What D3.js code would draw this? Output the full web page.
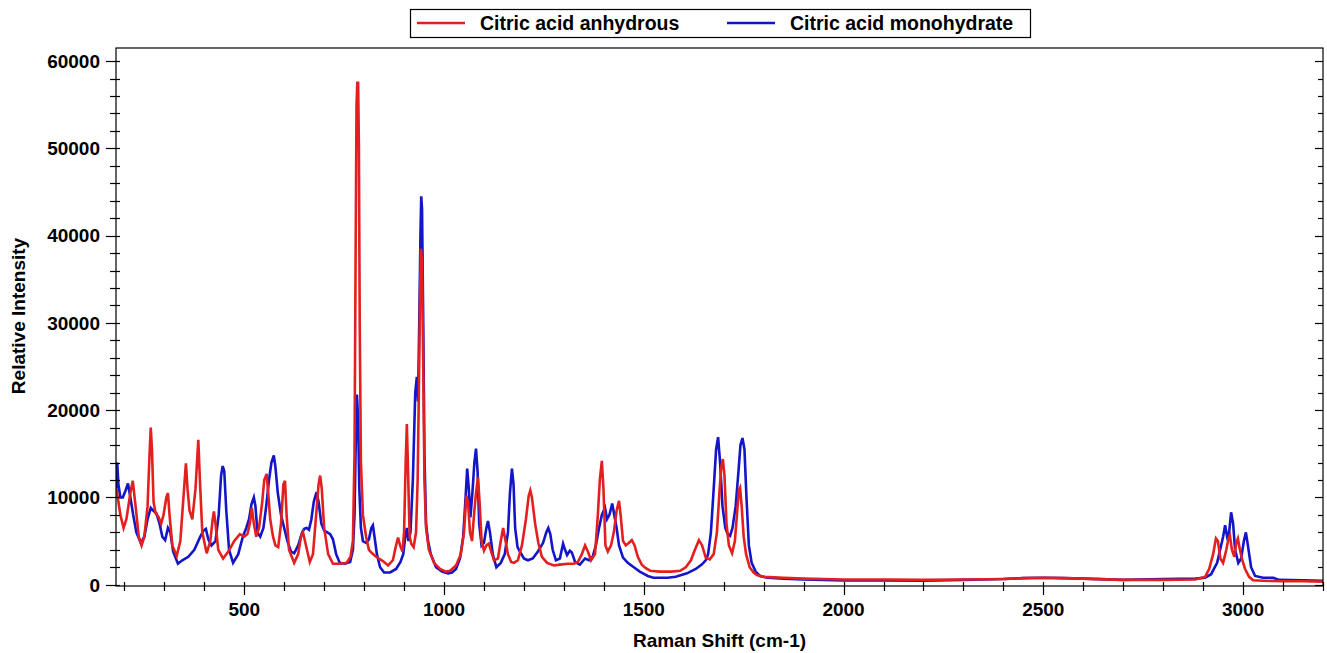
<!DOCTYPE html>
<html><head><meta charset="utf-8">
<script src="https://cdn.jsdelivr.net/npm/d3@7"></script>
<style>body{margin:0;background:#fff;} svg{display:block;} text{font-family:"Liberation Sans",Arial,sans-serif;font-weight:bold;}</style>
</head><body>
<svg id="c" width="1327" height="653"></svg>
<script>
const seriesNames = ["Citric acid anhydrous", "Citric acid monohydrate"];
const xTickValues = [500, 1000, 1500, 2000, 2500, 3000];
const yTickValues = [0, 10000, 20000, 30000, 40000, 50000, 60000];
const xLabel = "Raman Shift (cm-1)";
const yLabel = "Relative Intensity";

// [Raman shift, intensity]
const anhydrous = [
[180,11000],[185,9500],[190,8000],[198,6500],[205,7500],[215,10500],[221,11900],[228,9000],[236,5500],[243,4500],
[250,5500],[258,9000],[263,15000],[266,18000],[269,15500],[273,9500],[278,8200],[285,7800],[292,7000],[298,8000],
[305,10000],[309,10500],[313,8000],[320,4500],[331,3300],[340,5000],[347,9500],[354,13900],[358,11000],[363,8500],
[370,7500],[378,11000],[385,16600],[389,12000],[395,6000],[406,3600],[415,5000],[421,7500],[424,8400],[428,7000],
[435,4000],[447,3000],[460,3800],[475,5000],[489,5800],[500,5500],[508,5800],[514,7000],[519,8800],[524,7000],
[530,5500],[537,6500],[545,9500],[550,12000],[556,12700],[560,10500],[565,7500],[572,5500],[578,4500],[585,4300],
[592,7000],[598,11500],[602,11900],[606,8000],[612,4000],[625,2500],[635,3500],[642,5500],[647,6000],[652,5000],
[664,2600],[672,3500],[680,8000],[686,11500],[690,12500],[694,11000],[700,6500],[710,3500],[722,2400],[740,2400],
[756,2500],[766,3200],[772,5000],[776,15000],[779,40000],[781,55000],[783,57500],[785,57500],[787,50000],[789,30000],
[792,14000],[797,8000],[805,5500],[812,4000],[820,3600],[830,3200],[847,2700],[860,2200],[872,2800],[880,4500],
[885,5400],[890,4500],[896,3800],[900,6000],[904,14000],[907,18400],[910,13000],[914,5500],[918,4700],[924,4300],
[930,6000],[934,12000],[937,22000],[940,33000],[942,38500],[945,37000],[948,25000],[951,12000],[955,6500],[962,4000],
[975,2500],[990,1800],[1005,1500],[1015,1600],[1030,2200],[1042,3500],[1050,6000],[1056,10200],[1060,9500],[1065,6000],
[1070,5000],[1076,8500],[1080,10500],[1085,12300],[1089,9500],[1094,5000],[1100,3900],[1106,4500],[1112,4700],[1118,3800],
[1125,2800],[1135,3000],[1142,5000],[1148,6500],[1154,5000],[1160,3500],[1168,2600],[1175,2500],[1185,2800],[1195,4500],
[1205,7500],[1212,10200],[1216,10800],[1220,10000],[1228,7000],[1236,4800],[1245,3200],[1258,2500],[1275,2200],[1290,2300],
[1310,2400],[1325,2400],[1335,2600],[1345,3500],[1353,4500],[1360,3800],[1368,2800],[1378,3500],[1385,8000],[1390,12000],
[1395,14200],[1399,11000],[1404,4500],[1410,3800],[1418,4500],[1425,6000],[1432,8500],[1438,9600],[1442,8000],[1448,5000],
[1455,4500],[1463,4800],[1470,5100],[1477,4500],[1485,3200],[1495,2300],[1505,1900],[1516,1600],[1540,1500],[1570,1500],
[1591,1600],[1605,2000],[1618,2800],[1628,4000],[1638,5100],[1646,4500],[1655,3100],[1665,2900],[1675,3500],[1683,6000],
[1690,11000],[1694,13500],[1698,14400],[1702,12500],[1707,7000],[1713,4500],[1721,3600],[1728,5000],[1734,8500],[1738,10800],
[1741,11100],[1745,9000],[1750,5500],[1756,3500],[1765,2000],[1775,1400],[1783,1100],[1800,900],[1850,800],[1900,700],
[1950,650],[2000,600],[2100,600],[2200,550],[2300,600],[2400,650],[2450,750],[2500,800],[2550,750],[2600,700],
[2700,550],[2800,550],[2880,600],[2905,900],[2915,1800],[2925,3500],[2932,5300],[2937,5000],[2943,3000],[2950,2500],
[2958,4000],[2963,5200],[2967,5600],[2972,4000],[2978,3200],[2983,4800],[2987,5300],[2992,4000],[2998,2800],[3005,1800],
[3015,900],[3025,500],[3050,450],[3100,400],[3150,400],[3200,350]
];

const monohydrate = [
[180,11000],[182,14000],[185,11500],[190,10000],[196,10000],[203,10800],[209,11600],[215,10000],[222,8000],[230,6000],
[241,4800],[250,5500],[258,7500],[266,8800],[272,8500],[280,8200],[288,7000],[295,5500],[302,5100],[309,6500],
[315,6000],[322,3800],[334,2400],[345,2800],[360,3200],[375,4000],[390,5500],[398,6200],[404,6400],[410,5200],
[418,4500],[428,5000],[436,8000],[442,12500],[446,13600],[450,13000],[455,8500],[462,4000],[472,2500],[485,3500],
[497,5600],[505,6500],[512,7500],[518,9200],[524,10000],[528,9000],[533,6000],[540,5500],[548,6500],[555,9000],
[562,12000],[568,14000],[574,14800],[578,13500],[584,10500],[592,8000],[600,6500],[608,5000],[617,3800],[625,3600],
[635,4500],[645,6000],[650,6400],[656,6500],[662,6300],[668,7500],[674,9500],[681,10600],[686,9500],[693,7000],
[700,6200],[708,6000],[715,5800],[722,5200],[730,3500],[739,2500],[752,2400],[765,2600],[772,4000],[776,8000],
[779,16000],[782,21800],[785,19000],[788,11000],[792,6500],[797,5000],[805,4800],[812,5200],[818,6500],[822,6800],
[826,5500],[832,3500],[840,2000],[850,1400],[865,1400],[880,1800],[891,2600],[898,3500],[903,5500],[907,6500],
[911,5000],[916,6000],[922,12000],[928,22000],[932,23800],[935,21000],[938,30000],[941,40000],[943,44500],[945,43000],
[948,30000],[951,15000],[955,7000],[960,5000],[967,3500],[980,2000],[995,1500],[1010,1300],[1020,1400],[1030,1800],
[1040,3000],[1048,5500],[1054,10000],[1058,13300],[1062,11000],[1066,7700],[1071,10500],[1076,14000],[1080,15600],[1084,13000],
[1088,7000],[1094,4500],[1100,4800],[1106,6500],[1110,7300],[1115,6000],[1122,3500],[1131,2000],[1142,2500],[1152,3500],
[1160,6000],[1165,10500],[1170,13300],[1174,11500],[1178,6500],[1184,4300],[1190,3800],[1200,3000],[1210,2800],[1222,3000],
[1235,3800],[1248,4800],[1256,6000],[1261,6500],[1266,5800],[1272,4000],[1280,2800],[1290,3000],[1298,4700],[1303,4000],
[1308,3400],[1315,3900],[1320,3700],[1328,2600],[1340,2300],[1353,3000],[1363,2800],[1372,3200],[1380,4500],[1388,6500],
[1395,8000],[1403,8800],[1408,7500],[1414,8000],[1421,9300],[1426,8000],[1432,6500],[1438,4500],[1448,3100],[1460,2500],
[1475,2000],[1490,1500],[1498,1300],[1510,1000],[1524,800],[1540,800],[1560,800],[1580,900],[1608,1300],[1630,1800],
[1645,2300],[1655,2800],[1661,3500],[1668,6000],[1675,11000],[1681,15500],[1686,16900],[1691,14000],[1697,9000],[1704,6500],
[1710,5800],[1716,5600],[1722,6500],[1730,9000],[1737,13000],[1742,16000],[1747,16800],[1752,15500],[1757,10000],[1763,4500],
[1770,2500],[1780,1500],[1791,1000],[1810,800],[1850,700],[1900,600],[1950,550],[2000,500],[2100,500],[2200,450],
[2300,550],[2400,650],[2450,750],[2500,800],[2550,750],[2600,700],[2700,550],[2800,650],[2880,700],[2905,800],
[2920,1200],[2935,2500],[2945,4500],[2950,5500],[2955,6800],[2960,5500],[2965,6000],[2970,8300],[2975,7000],[2980,4000],
[2988,2500],[2995,3000],[3002,5000],[3007,6000],[3012,4500],[3020,2000],[3030,1000],[3050,800],[3076,800],[3090,550],
[3150,500],[3200,450]
];

const svg = d3.select("#c");
const L = 116, R = 1323, T = 48, B = 586;
const x = d3.scaleLinear().domain([179, 3200]).range([L, R]);
const y = d3.scaleLinear().domain([-150, 61500]).range([B, T]);
const colors = ["#e41f1f", "#1414c8"];

svg.append("defs").append("clipPath").attr("id","clip")
  .append("rect").attr("x",L).attr("y",T).attr("width",R-L).attr("height",B-T);

const line = d3.line().x(d=>x(d[0])).y(d=>y(d[1]));
const g = svg.append("g").attr("clip-path","url(#clip)");
g.append("path").datum(monohydrate).attr("d",line).attr("fill","none").attr("stroke",colors[1]).attr("stroke-width",2.6).attr("stroke-linejoin","miter");
g.append("path").datum(anhydrous).attr("d",line).attr("fill","none").attr("stroke",colors[0]).attr("stroke-width",2.6).attr("stroke-linejoin","miter");

// frame
svg.append("rect").attr("x",L).attr("y",T).attr("width",R-L).attr("height",B-T).attr("fill","none").attr("stroke","#000").attr("stroke-width",1.2);

// y axis left
const yMinor = d3.range(0, 61000, 2000);
const ya = svg.append("g");
ya.selectAll("line.mi").data(yMinor).join("line")
  .attr("x1", d => yTickValues.includes(d) ? L-10 : L-6).attr("x2", L+4)
  .attr("y1", d=>Math.round(y(d))+0.5).attr("y2", d=>Math.round(y(d))+0.5)
  .attr("stroke","#000").attr("stroke-width",1.2);
ya.selectAll("text").data(yTickValues).join("text")
  .attr("x", 100).attr("y", d=>y(d)).attr("dy","0.36em").attr("text-anchor","end")
  .attr("font-size",19).text(d=>d);

// right axis ticks inward
svg.append("g").selectAll("line").data(yMinor).join("line")
  .attr("x1", R).attr("x2", d => yTickValues.includes(d) ? R-8 : R-5)
  .attr("y1", d=>Math.round(y(d))+0.5).attr("y2", d=>Math.round(y(d))+0.5)
  .attr("stroke","#000").attr("stroke-width",1.2);

// x axis
const xMinor = d3.range(200, 3201, 100);
const xa = svg.append("g");
xa.selectAll("line").data(xMinor).join("line")
  .attr("x1", d=>Math.round(x(d))+0.5).attr("x2", d=>Math.round(x(d))+0.5)
  .attr("y1", B-4).attr("y2", d => xTickValues.includes(d) ? B+9 : B+5)
  .attr("stroke","#000").attr("stroke-width",1.2);
xa.selectAll("text").data(xTickValues).join("text")
  .attr("x", d=>x(d)).attr("y", 616).attr("text-anchor","middle")
  .attr("font-size",19).text(d=>d);

// axis titles
svg.append("text").attr("x", (L+R)/2).attr("y", 647).attr("text-anchor","middle").attr("font-size",19).text(xLabel);
svg.append("text").attr("transform","translate(25,316) rotate(-90)").attr("text-anchor","middle").attr("font-size",19).text(yLabel);

// legend
const lg = svg.append("g");
lg.append("rect").attr("x",410.5).attr("y",9.5).attr("width",620).attr("height",28).attr("fill","#fff").attr("stroke","#000").attr("stroke-width",1.2);
const legX = [[417, 465, 480], [727, 775, 790]];
seriesNames.forEach((n,i)=>{
  lg.append("line").attr("x1",legX[i][0]).attr("x2",legX[i][1]).attr("y1",23).attr("y2",23).attr("stroke",colors[i]).attr("stroke-width",2.5);
  lg.append("text").attr("x",legX[i][2]).attr("y",30).attr("font-size",19.5).text(n);
});
</script>
</body></html>
